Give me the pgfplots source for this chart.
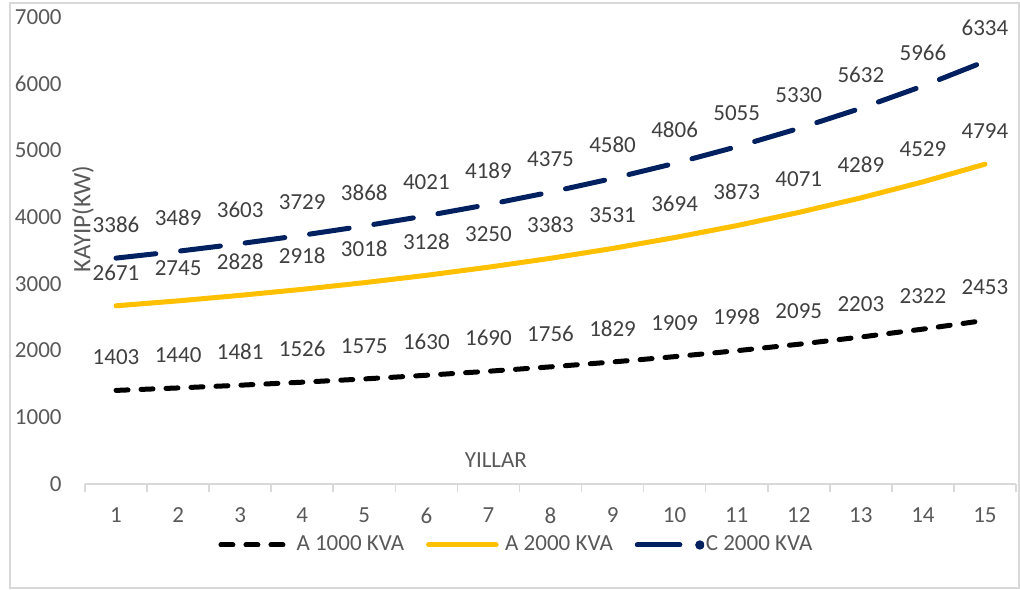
\documentclass[border=0pt]{standalone}
\usepackage{pgfplots}
\pgfplotsset{compat=1.18}
\usepackage{fontspec}
\setmainfont{Carlito}

\definecolor{axgray}{HTML}{D9D9D9}
\definecolor{tickgray}{HTML}{595959}
\definecolor{labgray}{HTML}{404040}
\definecolor{gold}{HTML}{FFC000}
\definecolor{navy}{HTML}{002060}

\newcommand{\chartfont}{\fontsize{11.5}{13}\selectfont}

\pgfplotsset{
  legA/.style={legend image code/.code={
    \path[draw=none, fill=none] (0pt,-3pt) rectangle (39pt,3pt);
    \draw[black, line width=2.5pt, line cap=round, dash pattern=on 6pt off 6.5pt]
      (1.2pt,0pt) -- (32.5pt,0pt);}},
  legB/.style={legend image code/.code={
    \path[draw=none, fill=none] (0pt,-3pt) rectangle (39.5pt,3pt);
    \draw[gold, line width=2.5pt, line cap=round, solid] (1.2pt,0pt) -- (35pt,0pt);}},
  legC/.style={legend image code/.code={
    \path[draw=none, fill=none] (0pt,-3pt) rectangle (35.5pt,3pt);
    \draw[navy, line width=2.5pt, line cap=round, solid] (1.2pt,0pt) -- (22.5pt,0pt);
    \fill[navy] (32.5pt,0pt) circle (1pt);}},
}

\begin{document}
\begin{tikzpicture}
% canvas and outer chart frame
\useasboundingbox (-42.5pt,-52.5pt) rectangle (467.5pt,242pt);
\draw[axgray, line width=0.6pt] (-37.5pt,-52pt) rectangle (467pt,240.5pt);
\begin{axis}[
  scale only axis,
  width=465.5pt, height=233.5pt,
  xmin=0.5, xmax=15.5, ymin=0, ymax=7000,
  axis x line*=bottom, axis y line*=left,
  x axis line style={axgray, line width=0.8pt},
  y axis line style={draw=none},
  xtick={1,...,15},
  minor xtick={0.5,1.5,...,15.5},
  xtick align=outside,
  major tick length=0pt, minor tick length=4pt,
  minor tick style={axgray, line width=0.8pt},
  major tick style={draw=none},
  ytick={0,1000,...,7000},
  scaled y ticks=false,
  /pgf/number format/assume math mode=true,
  /pgf/number format/1000 sep={},
  tick label style={font=\chartfont, text=tickgray, inner sep=0pt},
  yticklabel style={anchor=east, xshift=-11.5pt},
  xticklabel style={anchor=north, yshift=-11.8pt},
  clip=false,
  nodes near coords,
  point meta=explicit,
  every node near coord/.style={anchor=base, inner sep=0pt, yshift=12.9pt,
    font=\chartfont, text=labgray},
  legend columns=3,
  legend style={draw=none, fill=none, inner sep=0pt, font=\chartfont,
    text=tickgray, at={(0.1429,-0.1306)}, anchor=west,
    nodes={inner sep=0pt},
    /tikz/every even column/.append style={column sep=11pt}},
]
\addplot[black, line width=2.5pt, line cap=round,
  dash pattern=on 6pt off 6.5pt, legA]
  table[meta=y] {
x y
1 1403
2 1440
3 1481
4 1526
5 1575
6 1630
7 1690
8 1756
9 1829
10 1909
11 1998
12 2095
13 2203
14 2322
15 2453
};
\addlegendentry{A 1000 KVA}
\addplot[gold, line width=2.5pt, line cap=round, legB]
  table[meta=y] {
x y
1 2671
2 2745
3 2828
4 2918
5 3018
6 3128
7 3250
8 3383
9 3531
10 3694
11 3873
12 4071
13 4289
14 4529
15 4794
};
\addlegendentry{A 2000 KVA}
\addplot[navy, line width=2.5pt, line cap=round,
  dash pattern=on 20pt off 12.5pt, legC]
  table[meta=y] {
x y
1 3386
2 3489
3 3603
4 3729
5 3868
6 4021
7 4189
8 4375
9 4580
10 4806
11 5055
12 5330
13 5632
14 5966
15 6334
};
\addlegendentry{C 2000 KVA}
% axis titles
\node[rotate=90, font=\fontsize{12.5}{14}\selectfont, text=tickgray, inner sep=0pt]
  at (axis cs:0.468,3972) {KAYIP(KW)};
\node[font=\chartfont, text=tickgray, inner sep=0pt]
  at (axis cs:7.12,360) {YILLAR};
\end{axis}
\end{tikzpicture}
\end{document}
